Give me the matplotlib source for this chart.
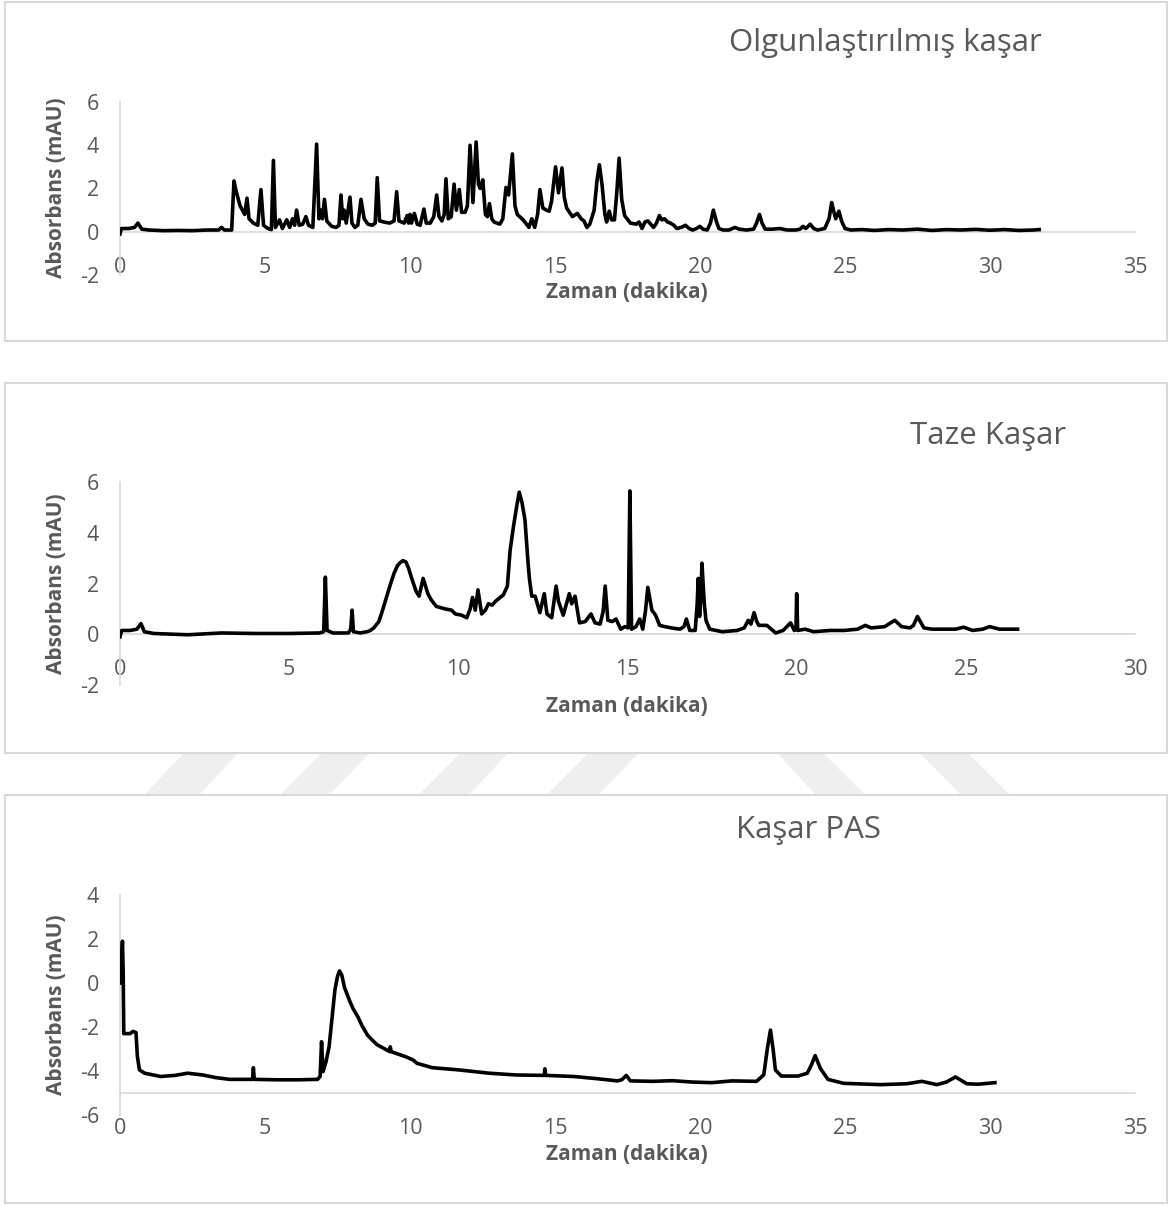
import matplotlib
matplotlib.use("Agg")
import matplotlib.pyplot as plt
from matplotlib.patches import Rectangle, Polygon

plt.rcParams['font.family'] = ['Open Sans', 'DejaVu Sans']

# ---------------- data ----------------
titles = ["Olgunlaştırılmış kaşar", "Taze Kaşar", "Kaşar PAS"]
x_label = "Zaman (dakika)"
y_label = "Absorbans (mAU)"

p1_xticks = [0, 5, 10, 15, 20, 25, 30, 35]
p1_yticks = [-2, 0, 2, 4, 6]
p2_xticks = [0, 5, 10, 15, 20, 25, 30]
p2_yticks = [-2, 0, 2, 4, 6]
p3_xticks = [0, 5, 10, 15, 20, 25, 30, 35]
p3_yticks = [-6, -4, -2, 0, 2, 4]

p1_t = [0.0, 0.05, 0.3, 0.5, 0.62, 0.75, 1.0, 1.5, 2.0, 2.5, 3.0, 3.4, 3.5, 3.6, 3.85,
        3.93, 4.0, 4.14, 4.3, 4.38, 4.45, 4.6, 4.75, 4.86, 4.95, 5.1, 5.22, 5.29, 5.36,
        5.5, 5.6, 5.75, 5.85, 5.95, 6.02, 6.09, 6.18, 6.3, 6.41, 6.5, 6.65, 6.78, 6.86,
        6.92, 6.98, 7.05, 7.13, 7.3, 7.45, 7.55, 7.62, 7.68, 7.73, 7.8, 7.93, 8.0, 8.1,
        8.2, 8.31, 8.42, 8.55, 8.7, 8.8, 8.87, 8.95, 9.1, 9.3, 9.45, 9.54, 9.62, 9.8,
        9.9, 9.95, 10.0, 10.05, 10.15, 10.25, 10.35, 10.48, 10.56, 10.7, 10.82, 10.92,
        11.0, 11.1, 11.18, 11.24, 11.32, 11.42, 11.52, 11.6, 11.70, 11.78, 11.9, 11.98,
        12.07, 12.17, 12.28, 12.36, 12.42, 12.51, 12.6, 12.67, 12.74, 12.82, 12.9, 13.1,
        13.2, 13.31, 13.4, 13.53, 13.62, 13.7, 13.9, 14.05, 14.1, 14.2, 14.3, 14.4,
        14.48, 14.58, 14.7, 14.8, 14.88, 15.02, 15.12, 15.24, 15.32, 15.4, 15.6, 15.77,
        15.9, 16.0, 16.1, 16.2, 16.35, 16.45, 16.53, 16.62, 16.72, 16.78, 16.87, 16.95,
        17.05, 17.13, 17.21, 17.3, 17.4, 17.6, 17.8, 17.9, 18.0, 18.1, 18.2, 18.3, 18.4,
        18.5, 18.6, 18.68, 18.78, 18.88, 18.98, 19.1, 19.2, 19.35, 19.5, 19.62, 19.75,
        19.88, 20.0, 20.1, 20.25, 20.36, 20.46, 20.56, 20.65, 20.8, 21.0, 21.2, 21.35,
        21.6, 21.85, 21.95, 22.05, 22.14, 22.25, 22.5, 22.75, 23.0, 23.3, 23.45, 23.55,
        23.65, 23.8, 23.92, 24.05, 24.3, 24.45, 24.54, 24.62, 24.68, 24.79, 24.88, 25.0,
        25.2, 25.6, 26.0, 26.5, 27.0, 27.5, 28.0, 28.5, 29.0, 29.5, 30.0, 30.5, 31.0,
        31.5, 31.7]
p1_v = [-0.1, 0.15, 0.15, 0.2, 0.4, 0.12, 0.08, 0.05, 0.06, 0.05, 0.08, 0.08, 0.2, 0.08, 0.08,
        2.35, 1.9, 1.2, 0.8, 1.55, 0.6, 0.4, 0.3, 1.95, 0.3, 0.15, 0.1, 3.3, 0.2,
        0.55, 0.15, 0.55, 0.2, 0.6, 0.3, 1.0, 0.3, 0.35, 0.7, 0.3, 0.2, 4.05, 0.6,
        1.0, 0.6, 1.5, 0.5, 0.25, 0.2, 0.3, 1.7, 0.6, 1.0, 0.4, 1.6, 0.4, 0.2,
        0.3, 1.5, 0.6, 0.35, 0.3, 0.4, 2.5, 0.5, 0.45, 0.4, 0.5, 1.85, 0.5, 0.4,
        0.75, 0.4, 0.8, 0.4, 0.85, 0.35, 0.3, 1.05, 0.4, 0.4, 0.7, 1.7,
        0.7, 0.5, 0.8, 2.45, 0.6, 0.7, 2.2, 1.0, 1.95, 0.9, 0.9, 1.2,
        4.0, 1.35, 4.15, 2.2, 2.0, 2.4, 0.8, 0.7, 1.3, 0.6, 0.45, 0.35,
        0.6, 2.05, 1.7, 3.6, 1.2, 0.8, 0.55, 0.3, 0.2, 0.6, 0.2, 0.8,
        1.95, 1.1, 1.0, 0.95, 1.4, 3.0, 1.8, 2.95, 1.6, 1.1, 0.7, 0.85,
        0.6, 0.5, 0.2, 0.35, 1.0, 2.4, 3.1, 2.2, 0.8, 0.45, 0.95, 0.55,
        0.55, 1.8, 3.4, 1.5, 0.75, 0.4, 0.35, 0.45, 0.15, 0.45, 0.5, 0.35, 0.2,
        0.4, 0.75, 0.55, 0.6, 0.45, 0.4, 0.3, 0.15, 0.2, 0.3, 0.15, 0.08,
        0.15, 0.25, 0.12, 0.08, 0.4, 1.0, 0.5, 0.15, 0.08, 0.08, 0.2, 0.12,
        0.08, 0.12, 0.4, 0.8, 0.4, 0.12, 0.12, 0.15, 0.08, 0.08, 0.12, 0.25,
        0.15, 0.35, 0.15, 0.08, 0.15, 0.6, 1.35, 0.9, 0.6, 0.95, 0.5, 0.15,
        0.08, 0.1, 0.06, 0.1, 0.08, 0.12, 0.06, 0.1, 0.08, 0.11, 0.07, 0.1, 0.06,
        0.08, 0.1]

p2_t = [0.0, 0.05, 0.3, 0.5, 0.62, 0.72, 1.0, 2.0, 3.0, 4.0, 5.0, 5.9, 6.02, 6.07, 6.12,
        6.3, 6.75, 6.82, 6.86, 6.9, 7.1, 7.3, 7.4, 7.5, 7.65, 7.75, 7.88, 8.0, 8.1, 8.2,
        8.28, 8.36, 8.45, 8.53, 8.61,
        8.75, 8.84, 8.96, 9.1, 9.2, 9.35, 9.6, 9.8, 9.91, 10.1, 10.25, 10.35, 10.42,
        10.5, 10.58, 10.69, 10.8, 10.89, 11.0, 11.1, 11.19, 11.33, 11.45, 11.53, 11.63,
        11.72, 11.8, 11.88, 11.97, 12.05, 12.1, 12.17, 12.27, 12.41, 12.54, 12.62, 12.76,
        12.89, 12.96, 13.1, 13.28, 13.35, 13.45, 13.58, 13.75, 13.92, 14.04, 14.19,
        14.28, 14.34, 14.42, 14.55, 14.66, 14.8, 14.92, 15.02, 15.07, 15.12, 15.25,
        15.36, 15.45, 15.53, 15.6, 15.72, 15.83, 15.95, 16.1, 16.3, 16.55, 16.67, 16.74,
        16.84, 17.0, 17.06, 17.09, 17.13, 17.17, 17.2, 17.27, 17.32, 17.43, 17.8, 18.24,
        18.45, 18.57, 18.65, 18.74, 18.82, 18.88, 19.12, 19.38, 19.6, 19.82, 19.93,
        19.98, 20.0, 20.03, 20.25, 20.5, 21.0, 21.4, 21.8, 22.03, 22.2, 22.6, 22.9,
        23.1, 23.35, 23.45, 23.57, 23.76, 24.0, 24.37, 24.7, 24.93, 25.2, 25.5, 25.7,
        26.0, 26.3, 26.53]
p2_v = [-0.1, 0.15, 0.15, 0.2, 0.42, 0.1, 0.03, -0.02, 0.05, 0.03, 0.03, 0.05, 0.1, 2.25, 0.15,
        0.05, 0.05, 0.2, 0.95, 0.1, 0.05, 0.1, 0.15, 0.25, 0.5, 0.9, 1.48, 2.0, 2.4, 2.7,
        2.82, 2.9, 2.85, 2.6, 2.25,
        1.7, 1.5, 2.2, 1.6, 1.35, 1.1, 1.0, 0.95, 0.8, 0.75, 0.65, 1.0, 1.45,
        0.95, 1.75, 0.8, 0.95, 1.2, 1.15, 1.3, 1.4, 1.55, 1.9, 3.3, 4.25,
        5.0, 5.6, 5.2, 4.5, 3.0, 2.2, 1.5, 1.5, 0.85, 1.6, 0.8, 0.65,
        1.9, 1.3, 0.75, 1.6, 1.2, 1.5, 0.45, 0.5, 0.8, 0.45, 0.4,
        0.9, 1.9, 0.55, 0.5, 0.6, 0.2, 0.3, 0.25, 5.65, 0.2, 0.3,
        0.6, 0.2, 0.9, 1.85, 0.95, 0.75, 0.35, 0.3, 0.25, 0.2, 0.3, 0.6,
        0.15, 0.15, 1.2, 2.2, 0.7, 1.5, 2.8, 1.2, 0.55, 0.2, 0.1, 0.15,
        0.25, 0.55, 0.4, 0.85, 0.5, 0.35, 0.35, 0.05, 0.15, 0.45, 0.15,
        0.2, 1.6, 0.15, 0.2, 0.1, 0.15, 0.15, 0.2, 0.35, 0.25, 0.3, 0.55,
        0.3, 0.25, 0.35, 0.7, 0.25, 0.2, 0.2, 0.2, 0.28, 0.15, 0.2, 0.3,
        0.2, 0.2, 0.2]

p3_t = [0.0, 0.04, 0.085, 0.11, 0.13, 0.35, 0.45, 0.55, 0.6, 0.67, 0.85, 1.4, 1.9, 2.33,
        2.85, 3.3, 3.78, 4.57, 4.6, 4.63, 5.4, 6.15, 6.81, 6.9, 6.95, 7.0, 7.1, 7.21,
        7.41, 7.5, 7.57, 7.65, 7.74, 7.93, 8.05, 8.2, 8.35, 8.53, 8.7, 8.86, 9.3, 9.32, 9.35,
        9.85, 10.11, 10.24,
        10.77, 11.68, 12.73, 13.65, 14.63, 14.65, 14.68, 15.65, 16.45, 17.16, 17.3,
        17.46, 17.6, 18.39, 19.04, 19.7, 20.4, 21.1, 21.95, 22.2, 22.32, 22.43, 22.52,
        22.6, 22.8, 23.38, 23.7, 23.85, 23.97, 24.15, 24.41, 24.95, 26.22, 27.13,
        27.65, 28.17, 28.5, 28.81, 29.2, 29.6, 30.17]
p3_v = [0.0, 0.8, 1.9, 0.5, -2.3, -2.3, -2.2, -2.25, -3.35, -3.95, -4.1, -4.25, -4.2, -4.1,
        -4.18, -4.3, -4.38, -4.38, -3.85, -4.38, -4.4, -4.4, -4.38, -4.25, -2.67, -4.03, -3.6, -2.9,
        -0.32, 0.3, 0.55, 0.35, -0.2, -0.85, -1.2, -1.53, -1.95, -2.36, -2.6, -2.8, -3.12, -2.9, -3.12,
        -3.35, -3.5, -3.65,
        -3.85, -3.95, -4.1, -4.18, -4.2, -3.9, -4.2, -4.25, -4.35, -4.45, -4.4,
        -4.2, -4.45, -4.47, -4.44, -4.5, -4.53, -4.45, -4.47, -4.17, -3.0, -2.14, -3.0,
        -3.95, -4.23, -4.23, -4.1, -3.7, -3.3, -3.88, -4.38, -4.56, -4.62, -4.58,
        -4.47, -4.62, -4.5, -4.27, -4.58, -4.6, -4.53]

# ---------------- layout ----------------
W, H = 1169, 1205
fig = plt.figure(figsize=(W / 100, H / 100), dpi=100)
fig.patch.set_facecolor('white')


def fx(px):
    return px / W


def fy(py):
    return 1 - py / H


TXT = '#595959'
AXC = '#d9d9d9'

# faint watermark stripes between panels
stripes = [((183, 237), (145, 200)), ((321, 369), (281, 330)), ((459, 507), (420, 470)),
           ((587, 638), (548, 599)), ((778, 824), (815, 864)), ((921, 969), (960, 1009))]
for (ta, tb), (ba, bb) in stripes:
    poly = Polygon([(fx(ta), fy(754)), (fx(tb), fy(754)), (fx(bb), fy(794)), (fx(ba), fy(794))],
                   closed=True, transform=fig.transFigure, facecolor='#efefef',
                   edgecolor='none', zorder=-3)
    fig.patches.append(poly)

# panel boxes
boxes = [(5, 2, 1167, 341), (5, 383, 1167, 753), (5, 795, 1167, 1203)]
for (l, t, r, b) in boxes:
    rect = Rectangle((fx(l), fy(b)), fx(r) - fx(l), fy(t) - fy(b), transform=fig.transFigure,
                     facecolor='white', edgecolor=AXC, lw=1.5, zorder=-2)
    fig.patches.append(rect)

panels = [
    dict(t=p1_t, v=p1_v, xt=p1_xticks, yt=p1_yticks, xmax=35, cross=0, top=102, bottom=275,
         title=titles[0], tpos=(885, 43), ylab_y=188, xlab_y=293),
    dict(t=p2_t, v=p2_v, xt=p2_xticks, yt=p2_yticks, xmax=30, cross=0, top=482, bottom=685,
         title=titles[1], tpos=(988, 436), ylab_y=584, xlab_y=707),
    dict(t=p3_t, v=p3_v, xt=p3_xticks, yt=p3_yticks, xmax=35, cross=-5, top=895, bottom=1115,
         title=titles[2], tpos=(808, 830), ylab_y=1005, xlab_y=1155),
]

for p in panels:
    ax = fig.add_axes([fx(120), fy(p['bottom']), fx(1135) - fx(120), (p['bottom'] - p['top']) / H])
    ax.set_facecolor('none')
    ax.plot(p['t'], p['v'], color='black', lw=2.6, solid_joinstyle='round', zorder=3)
    ax.set_xlim(0, p['xmax'])
    ax.set_ylim(min(p['yt']), max(p['yt']))
    ax.set_xticks(p['xt'])
    ax.set_yticks(p['yt'])
    ax.set_xticklabels([str(v) for v in p['xt']])
    ax.set_yticklabels([str(v) for v in p['yt']])
    for s in ['top', 'right']:
        ax.spines[s].set_visible(False)
    ax.spines['bottom'].set_position(('data', p['cross']))
    ax.spines['bottom'].set_color(AXC)
    ax.spines['left'].set_color(AXC)
    ax.spines['bottom'].set_linewidth(1.2)
    ax.spines['left'].set_linewidth(1.2)
    ax.tick_params(axis='x', length=0, pad=18, labelsize=15.5, labelcolor=TXT)
    ax.tick_params(axis='y', length=0, pad=15, labelsize=15.5, labelcolor=TXT)

    fig.text(fx(p['tpos'][0]), fy(p['tpos'][1]), p['title'], ha='center', va='center',
             fontsize=22.5, color=TXT)
    fig.text(fx(57), fy(p['ylab_y']), y_label, rotation=90, ha='center', va='center',
             fontsize=15, fontweight='bold', color=TXT)
    fig.text(fx(627), fy(p['xlab_y']), x_label, ha='center', va='center',
             fontsize=15, fontweight='bold', color=TXT)

fig.savefig('out.png', dpi=100, facecolor='white')
